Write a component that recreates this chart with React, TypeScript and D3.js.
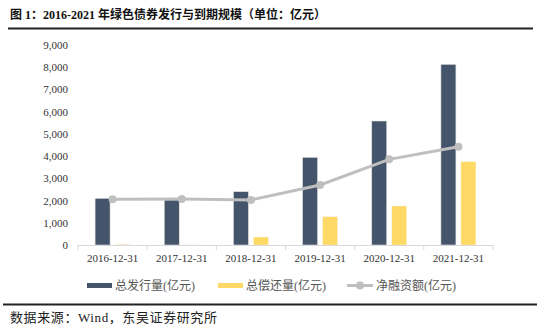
import React from "react";
import * as d3 from "d3";

const categories = ["2016-12-31", "2017-12-31", "2018-12-31", "2019-12-31", "2020-12-31", "2021-12-31"];
const issuance = [2100, 2025, 2400, 3945, 5580, 8130];
const repayment = [30, 5, 360, 1275, 1755, 3750];
const netFinancing = [2055, 2070, 2025, 2700, 3855, 4425];
const yTicks = [0, 1000, 2000, 3000, 4000, 5000, 6000, 7000, 8000, 9000];
const seriesNames = ["总发行量(亿元)", "总偿还量(亿元)", "净融资额(亿元)"];
const titleText = "图 1：2016-2021 年绿色债券发行与到期规模（单位：亿元）";
const sourceText = "数据来源：Wind，东吴证券研究所";

const DARK = "#44546A";
const YELLOW = "#FFD966";
const GREY = "#BFBFBF";
const FONT = "'Liberation Serif', 'Noto Sans CJK SC', serif";

export default function App() {
  const W = 554, H = 332;
  const x0 = 78, x1 = 493, yTop = 45, yBot = 245;
  const x = d3.scaleBand().domain(categories).range([x0, x1]);
  const y = d3.scaleLinear().domain([0, 9000]).range([yBot, yTop]);
  const bw = 15, gap = 5;
  const cx = (c: string) => (x(c) as number) + x.bandwidth() / 2;
  const line = d3.line<number>().x((_, i) => cx(categories[i])).y((v) => y(v));

  return (
    <svg width={W} height={H} style={{ position: "absolute", left: 0, top: 0, background: "#fff" }}>
      <text x={10} y={19} fontSize={12} fontWeight="bold" fontFamily={FONT} fill="#111">{titleText}</text>
      <line x1={8} x2={533} y1={28.5} y2={28.5} stroke="#222" strokeWidth={2} />

      {yTicks.map((t) => (
        <text key={t} x={68} y={y(t) + 4} textAnchor="end" fontSize={11} fontFamily={FONT} fill="#333">
          {d3.format(",")(t)}
        </text>
      ))}

      {categories.map((c, i) => (
        <g key={c}>
          <rect x={cx(c) - gap / 2 - bw} y={y(issuance[i])} width={bw} height={yBot - y(issuance[i])}
            fill={DARK} stroke="#E0E0E0" strokeWidth={0.6} />
          <rect x={cx(c) + gap / 2} y={y(repayment[i])} width={bw} height={yBot - y(repayment[i])}
            fill={YELLOW} stroke="#F4F4F4" strokeWidth={0.4} />
        </g>
      ))}

      <line x1={x0} x2={x1} y1={yBot + 0.5} y2={yBot + 0.5} stroke="#D9D9D9" strokeWidth={1} />
      {d3.range(categories.length + 1).map((i) => {
        const xx = x0 + i * x.step();
        return <line key={i} x1={xx} x2={xx} y1={yBot} y2={yBot + 5} stroke="#D9D9D9" strokeWidth={1} />;
      })}

      <path d={line(netFinancing) || ""} fill="none" stroke={GREY} strokeWidth={3} />
      {netFinancing.map((v, i) => (
        <circle key={i} cx={cx(categories[i])} cy={y(v)} r={4} fill={GREY} />
      ))}

      {categories.map((c) => (
        <text key={c} x={cx(c)} y={262} textAnchor="middle" fontSize={11} fontFamily={FONT} fill="#333">{c}</text>
      ))}

      <g fontSize={12} fontFamily={FONT} fill="#555">
        <rect x={87} y={283} width={25} height={5} fill={DARK} />
        <text x={115} y={290}>{seriesNames[0]}</text>
        <rect x={218} y={283} width={25} height={5} fill={YELLOW} />
        <text x={246} y={290}>{seriesNames[1]}</text>
        <line x1={347} x2={373} y1={285.5} y2={285.5} stroke={GREY} strokeWidth={3} />
        <circle cx={360} cy={285.5} r={4} fill={GREY} />
        <text x={376} y={290}>{seriesNames[2]}</text>
      </g>

      <line x1={3} x2={537} y1={304.5} y2={304.5} stroke="#222" strokeWidth={2} />
      <text x={10} y={322} fontSize={13} letterSpacing={0.6} fontFamily={FONT} fill="#222">{sourceText}</text>
    </svg>
  );
}
